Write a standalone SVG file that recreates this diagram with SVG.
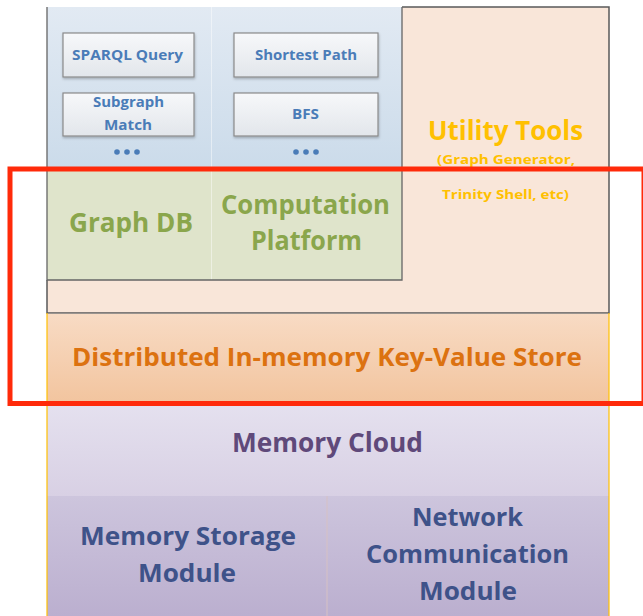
<svg xmlns="http://www.w3.org/2000/svg" width="643" height="616" viewBox="0 0 643 616">
<defs>
<linearGradient id="gBlue" x1="0" y1="0" x2="0" y2="1"><stop offset="0" stop-color="#e2eaf3"/><stop offset="1" stop-color="#cbdbea"/></linearGradient>
<linearGradient id="gBox" x1="0" y1="0" x2="0" y2="1"><stop offset="0" stop-color="#f7f8fa"/><stop offset="1" stop-color="#e2e6eb"/></linearGradient>
<linearGradient id="gOrange" x1="0" y1="0" x2="0" y2="1"><stop offset="0" stop-color="#f8dbc4"/><stop offset="1" stop-color="#f2c49e"/></linearGradient>
<linearGradient id="gCloud" x1="0" y1="0" x2="0" y2="1"><stop offset="0" stop-color="#e5e1ef"/><stop offset="1" stop-color="#d8d0e4"/></linearGradient>
<linearGradient id="gMod" x1="0" y1="0" x2="0" y2="1"><stop offset="0" stop-color="#cdc5dd"/><stop offset="1" stop-color="#bbafcf"/></linearGradient>
<filter id="sh" x="-10%" y="-10%" width="130%" height="140%"><feDropShadow dx="0.5" dy="1.5" stdDeviation="1" flood-color="#000" flood-opacity="0.25"/></filter>
</defs>
<style>
text{font-family:"Open Sans","Noto Sans","Liberation Sans",sans-serif;font-weight:700;text-anchor:middle}
.sub{fill:url(#gBox);stroke:#8a8a8a;stroke-width:1.2;filter:url(#sh)}
.subt{fill:#4a7cb8;font-size:14px}
.dot{fill:#4a7cb8}
.grn{fill:#8aa64c;font-size:26px}
.util{fill:#ffc000}
.kv{fill:#dc7210;font-size:25px}
.cloud{fill:#5f497a;font-size:26px}
.mod{fill:#3e5289;font-size:25px}
</style>

<g id="utility-tools">
<rect x="47" y="7" width="562" height="306" fill="#f9e6d9"/>
<path d="M402 7 H609 V313 H47 V280" fill="none" stroke="#5a5a5a" stroke-width="1.5"/>
<text class="util" x="505.5" y="140" font-size="26" textLength="155" lengthAdjust="spacingAndGlyphs">Utility Tools</text>
<text class="util" x="506" y="164" font-size="13" textLength="138" lengthAdjust="spacingAndGlyphs">(Graph Generator,</text>
<text class="util" x="505.5" y="199" font-size="13" textLength="127" lengthAdjust="spacingAndGlyphs">Trinity Shell, etc)</text>
</g>

<g id="top-panel">
<rect x="47" y="7" width="355" height="162" fill="url(#gBlue)"/>
<rect x="47" y="169" width="355" height="111" fill="#dfe4cb"/>
<line x1="211.5" y1="7" x2="211.5" y2="280" stroke="#ffffff" stroke-opacity="0.45" stroke-width="1"/>
<path d="M47 7 V280 H402 V7" fill="none" stroke="#666" stroke-width="1.3"/>
</g>

<g id="sparql-query">
<rect class="sub" x="63" y="33" width="131" height="44"/>
<text class="subt" x="127.5" y="60" textLength="111" lengthAdjust="spacingAndGlyphs">SPARQL Query</text>
</g>
<g id="shortest-path">
<rect class="sub" x="234" y="33" width="144" height="44"/>
<text class="subt" x="306" y="60" textLength="102" lengthAdjust="spacingAndGlyphs">Shortest Path</text>
</g>
<g id="subgraph-match">
<rect class="sub" x="63" y="93" width="131" height="43"/>
<text class="subt" x="128.5" y="107" textLength="71" lengthAdjust="spacingAndGlyphs">Subgraph</text>
<text class="subt" x="128" y="130" textLength="48" lengthAdjust="spacingAndGlyphs">Match</text>
</g>
<g id="bfs">
<rect class="sub" x="234" y="93" width="144" height="43"/>
<text class="subt" x="305.5" y="119" textLength="27" lengthAdjust="spacingAndGlyphs">BFS</text>
</g>
<g id="dots-left">
<circle class="dot" cx="117" cy="152" r="2.8"/><circle class="dot" cx="127" cy="152" r="2.8"/><circle class="dot" cx="137" cy="152" r="2.8"/>
</g>
<g id="dots-right">
<circle class="dot" cx="296" cy="152" r="2.8"/><circle class="dot" cx="306" cy="152" r="2.8"/><circle class="dot" cx="316" cy="152" r="2.8"/>
</g>

<g id="graph-db">
<text class="grn" x="131" y="232" textLength="124" lengthAdjust="spacingAndGlyphs">Graph DB</text>
</g>
<g id="computation-platform">
<text class="grn" x="305.5" y="214" textLength="169" lengthAdjust="spacingAndGlyphs">Computation</text>
<text class="grn" x="306.5" y="250" textLength="111" lengthAdjust="spacingAndGlyphs">Platform</text>
</g>

<g id="kv-store">
<rect x="47" y="313.8" width="562" height="90" fill="url(#gOrange)"/>
<text class="kv" x="327" y="366" textLength="510" lengthAdjust="spacingAndGlyphs">Distributed In-memory Key-Value Store</text>
</g>

<g id="memory-cloud">
<rect x="47" y="403" width="562" height="93" fill="url(#gCloud)"/>
<text class="cloud" x="327.5" y="452" textLength="191" lengthAdjust="spacingAndGlyphs">Memory Cloud</text>
</g>

<g id="memory-storage-module">
<rect x="47" y="496" width="280" height="120" fill="url(#gMod)"/>
<text class="mod" x="188" y="545" textLength="216" lengthAdjust="spacingAndGlyphs">Memory Storage</text>
<text class="mod" x="187" y="582" textLength="98" lengthAdjust="spacingAndGlyphs">Module</text>
</g>
<g id="network-communication-module">
<rect x="327" y="496" width="282" height="120" fill="url(#gMod)"/>
<line x1="327" y1="496" x2="327" y2="616" stroke="#d6c1c4" stroke-width="1"/>
<text class="mod" x="467.5" y="526" textLength="111" lengthAdjust="spacingAndGlyphs">Network</text>
<text class="mod" x="467.5" y="563" textLength="203" lengthAdjust="spacingAndGlyphs">Communication</text>
<text class="mod" x="468" y="600" textLength="98" lengthAdjust="spacingAndGlyphs">Module</text>
</g>

<g id="bottom-frame">
<line x1="47" y1="313" x2="47" y2="616" stroke="#ffc000" stroke-width="1.2"/>
<line x1="609" y1="313" x2="609" y2="616" stroke="#ffc000" stroke-width="1.2"/>
</g>

<g id="connectors"></g>

<g id="highlight">
<rect x="10" y="169" width="634" height="234.5" fill="none" stroke="#ff2a0a" stroke-width="5"/>
</g>
</svg>
